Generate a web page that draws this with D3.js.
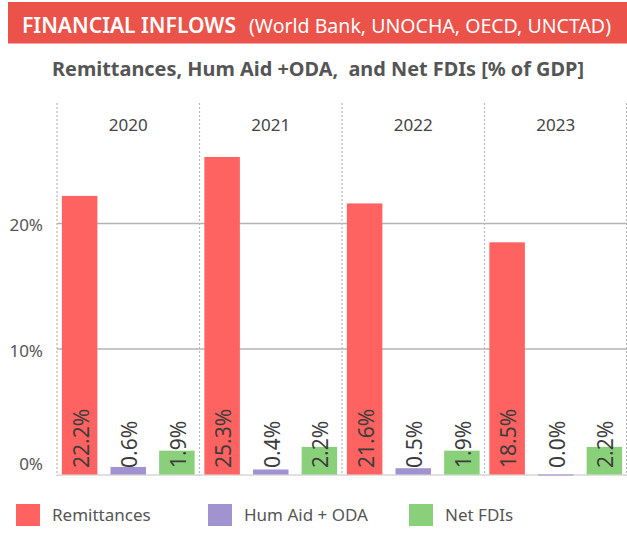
<!DOCTYPE html>
<html><head><meta charset="utf-8">
<script src="https://cdn.jsdelivr.net/npm/d3@7"></script>
<style>
html,body{margin:0;padding:0;background:#fff;}
svg{display:block;font-family:"Noto Sans",sans-serif;}
</style></head>
<body>
<svg id="chart" width="627" height="550"></svg>
<script>
const years = ["2020","2021","2022","2023"];
const seriesNames = ["Remittances","Hum Aid + ODA","Net FDIs"];
const remittances = [22.2,25.3,21.6,18.5];
const humAidOda = [0.6,0.4,0.5,0.0];
const netFdis = [1.9,2.2,1.9,2.2];
const yTicks = [0,10,20];
const colors = ["#FE6361","#A093D0","#8AD07B"];

const seriesValues = [remittances, humAidOda, netFdis];
const svg = d3.select("#chart");

function fit(sel, width){
  const n = sel.node();
  let fs = +sel.attr("font-size");
  let len = n.getComputedTextLength();
  if (len > width){ fs = fs*width/len; sel.attr("font-size", fs); }
  sel.attr("textLength", width).attr("lengthAdjust","spacingAndGlyphs");
}

// Header banner
svg.append("rect").attr("x",8).attr("y",2).attr("width",619).attr("height",41.5).attr("fill","#EB524A");
fit(svg.append("text").attr("x",22).attr("y",33).attr("fill","#fff")
  .attr("font-size",24).attr("font-weight",600)
  .text("FINANCIAL INFLOWS"), 214);
fit(svg.append("text").attr("x",249).attr("y",33).attr("fill","#fff")
  .attr("font-size",22)
  .text("(World Bank, UNOCHA, OECD, UNCTAD)"), 362);

// Subtitle
fit(svg.append("text").attr("x",52).attr("y",76).attr("fill","#555")
  .attr("font-size",19).attr("font-weight",700)
  .attr("xml:space","preserve")
  .text("Remittances, Hum Aid +ODA,  and Net FDIs [% of GDP]"), 532);

// Scales
const fx = d3.scaleBand().domain(years).range([57,627]).padding(0);
const x = d3.scaleBand().domain(seriesNames).range([0,fx.bandwidth()]).paddingInner(0.27).paddingOuter(0.1);
const y = d3.scaleLinear().domain([0,30]).range([474.5,98]);

// Gridlines
svg.append("g").selectAll("line").data(yTicks.filter(d=>d>0)).join("line")
  .attr("x1",57).attr("x2",627).attr("y1",d=>y(d)).attr("y2",d=>y(d))
  .attr("stroke","#b4b4b4").attr("stroke-width",1.6);

// Y labels
svg.append("g").selectAll("text").data(yTicks).join("text")
  .attr("x",43).attr("y",d=> d===0 ? y(d)-10 : y(d)+2)
  .attr("dy","0.35em").attr("text-anchor","end")
  .attr("font-size",17).attr("fill","#555")
  .text(d=>d+"%");

// Dividers
const divs = years.map(d=>fx(d)).concat([626.5]);
svg.append("g").selectAll("line").data(divs).join("line")
  .attr("x1",d=>d).attr("x2",d=>d).attr("y1",103).attr("y2",476)
  .attr("stroke","#b8b8b8").attr("stroke-width",1.2).attr("stroke-dasharray","2,2");

// Year headers
svg.append("g").selectAll("text").data(years).join("text")
  .attr("x",d=>fx(d)+fx.bandwidth()/2).attr("y",125).attr("dy","0.35em")
  .attr("text-anchor","middle").attr("font-size",17).attr("fill","#444")
  .text(d=>d);

// Baseline
svg.append("line").attr("x1",57).attr("x2",627).attr("y1",y(0)+0.5).attr("y2",y(0)+0.5)
  .attr("stroke","#d6d6d6").attr("stroke-width",1.6);

// Bars
const data = [];
years.forEach((yr,i)=>seriesNames.forEach((s,j)=>data.push({yr,s,j,v:seriesValues[j][i]})));
const g = svg.append("g");
g.selectAll("rect").data(data).join("rect")
  .attr("x",d=>fx(d.yr)+x(d.s)).attr("width",x.bandwidth())
  .attr("y",d=>y(d.v)).attr("height",d=>Math.max(y(0)-y(d.v), d.v===0?1:0))
  .attr("fill",d=>colors[d.j]);

// Value labels
g.selectAll("text").data(data).join("text")
  .attr("transform",d=>`translate(${fx(d.yr)+x(d.s)+x.bandwidth()/2+1.5},468) rotate(-90)`)
  .attr("dy","0.36em").attr("font-size",21).attr("fill","#3c3c3c")
  .text(d=>d.v.toFixed(1)+"%");

// Legend
const legX = [16,208,409];
const leg = svg.append("g").selectAll("g").data(seriesNames).join("g")
  .attr("transform",(d,i)=>`translate(${legX[i]},504)`);
leg.append("rect").attr("width",24).attr("height",22).attr("fill",(d,i)=>colors[i]);
leg.append("text").attr("x",36).attr("y",11).attr("dy","0.35em")
  .attr("font-size",17).attr("fill","#555").text(d=>d);
</script>
</body></html>
